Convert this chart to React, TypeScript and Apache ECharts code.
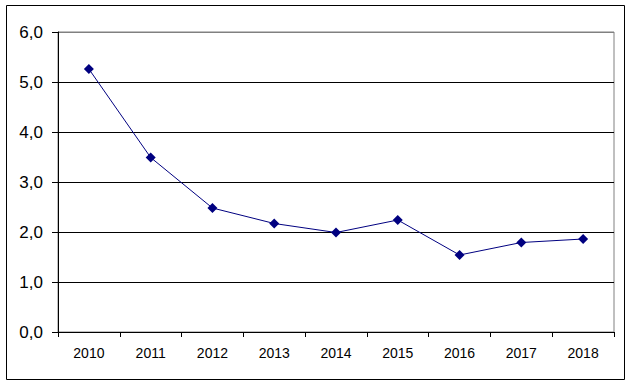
import React, { useEffect, useRef } from "react";
import * as echarts from "echarts";

const categories = ["2010", "2011", "2012", "2013", "2014", "2015", "2016", "2017", "2018"];
const values = [5.26, 3.49, 2.48, 2.17, 1.99, 2.24, 1.54, 1.79, 1.86];
const yTicks = [0, 1, 2, 3, 4, 5, 6];

export default function App() {
  const ref = useRef<HTMLDivElement>(null);
  useEffect(() => {
    document.body.style.margin = "0";
    const chart = echarts.init(ref.current!, undefined, { renderer: "svg" });
    const font = "'Liberation Sans', Arial, sans-serif";
    chart.setOption({
      animation: false,
      backgroundColor: "#ffffff",
      textStyle: { fontFamily: font },
      graphic: [
        {
          type: "rect",
          shape: { x: 6.5, y: 5.5, width: 618, height: 374 },
          style: { fill: "none", stroke: "#000", lineWidth: 1 },
          silent: true,
        },
      ],
      grid: {
        left: 58,
        top: 32,
        right: 18,
        bottom: 53,
        show: true,
        borderColor: "#808080",
        borderWidth: 1,
        backgroundColor: "transparent",
      },
      xAxis: {
        type: "category",
        data: categories,
        boundaryGap: true,
        axisLine: { lineStyle: { color: "#000", width: 1 } },
        axisTick: { show: true, length: 5, inside: false, lineStyle: { color: "#000" } },
        axisLabel: { color: "#000", fontSize: 14, margin: 14, fontFamily: font },
        splitLine: { show: false },
      },
      yAxis: {
        type: "value",
        min: yTicks[0],
        max: yTicks[yTicks.length - 1],
        interval: 1,
        axisLine: { show: true, lineStyle: { color: "#000", width: 1 } },
        axisTick: { show: true, length: 6, lineStyle: { color: "#000" } },
        axisLabel: {
          color: "#000",
          fontSize: 17,
          margin: 15,
          fontFamily: font,
          formatter: (v: number) => v.toFixed(1).replace(".", ","),
        },
        splitLine: {
          show: true,
          lineStyle: {
            color: ["#000", "#000", "#000", "#000", "#000", "#000", "#808080"],
            width: 1,
          },
        },
      },
      series: [
        {
          type: "line",
          data: values,
          symbol: "diamond",
          symbolSize: 10,
          lineStyle: { color: "#000080", width: 1 },
          itemStyle: { color: "#000080" },
        },
      ],
    });
    return () => chart.dispose();
  }, []);
  return (
    <div
      ref={ref}
      style={{ position: "absolute", left: 0, top: 0, width: 632, height: 385 }}
    />
  );
}
